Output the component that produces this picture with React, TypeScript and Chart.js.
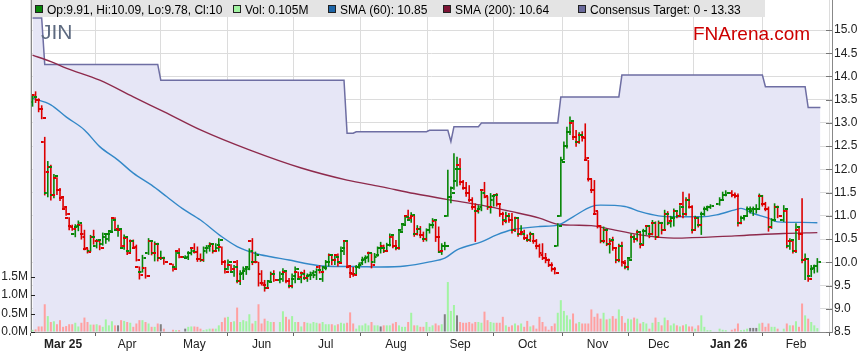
import React, { useEffect, useRef } from "react";
import { Chart, registerables } from "chart.js";

Chart.register(...registerables);

const FONT = "'Liberation Sans', Arial, Helvetica, sans-serif";
Chart.defaults.font.family = FONT;
Chart.defaults.font.size = 12;
Chart.defaults.color = "#222";

// ---------------- data ----------------
const tickerName = "JIN";
const siteName = "FNArena.com";

// x position = weekday index (0 = 17 Feb 2025)
const monthTickIdx = [10, 31, 53, 75, 96, 119, 140, 162, 185, 205, 228, 250];
const monthTickLabels = ["Mar 25", "Apr", "May", "Jun", "Jul", "Aug", "Sep", "Oct", "Nov", "Dec", "Jan 26", "Feb"];
const boldTickLabels = ["Mar 25", "Jan 26"];
const priceTicks = [8.5, 9.0, 9.5, 10.0, 10.5, 11.0, 11.5, 12.0, 12.5, 13.0, 13.5, 14.0, 14.5, 15.0];
const volumeTicks = [0, 0.5, 1.0, 1.5];

const opens: (number | null)[] = [
  13.45, 13.6, 13.5, 13.3, 12.6, 11.5, 12.05, 11.45, 11.82, 11.55,
  11.38, 11.15, 10.95, 10.78, 10.6, 10.75, 10.8, 10.6, 10.28, 10.25,
  10.55, 10.35, 10.45, 10.4, 10.55, 10.5, 10.68, 10.95, 10.7, 10.7,
  10.3, 10.52, 10.25, 10.45, 10.3, 9.9, 9.8, 9.88, 10.2, 10.45,
  10.2, 10.4, 10.1, 10.1, null, null, 9.97, 9.9, 10.25, null,
  10.12, 10.1, 10.2, 10.3, 10.22, 10.08, 10.05, 10.25, 10.3, 10.4,
  10.25, 10.3, 10.34, 10.0, 9.85, 9.95, 9.8, 10.0, 9.6, 9.75,
  9.82, 9.9, 10.45, 10.0, 10.0, 9.75, 9.55, 9.45, 9.6, 9.75,
  null, 9.62, 9.65, 9.8, 9.6, 9.5, 9.65, 9.8, 9.65, 9.78,
  9.66, 9.7, 9.72, 9.72, 9.9, 9.65, 9.9, 10.0, 10.15, 10.05,
  10.15, 10.0, 10.25, 10.45, 9.9, 9.78, 9.75, 9.9, 9.95, 10.05,
  10.1, 10.2, 10.0, 10.12, 10.3, 10.35, 10.25, 10.38, 10.55, 10.35,
  10.3, 10.7, 10.82, 11.0, 10.9, 11.0, 10.6, 10.72, 10.58, 10.5,
  10.7, 10.8, 10.88, 10.55, 10.22, 10.35, 11.0, 11.4, 11.6, 11.75,
  12.1, 11.72, 11.6, 11.5, 11.35, 11.2, 11.1, 11.15, 11.55, 11.4,
  11.18, 11.35, 11.44, 11.25, 11.05, 10.9, 11.0, 10.9, 10.7, 10.95,
  10.6, 10.65, 10.52, 10.48, 10.6, 10.45, 10.35, 10.2, 10.1, 10.05,
  9.95, 9.85, 10.35, 11.0, 12.2, 12.5, 12.8, 13.0, 12.7, 12.6,
  12.75, 12.7, 12.2, 11.8, 11.55, 11.05, 10.78, 10.45, 10.7, 10.4,
  10.45, 10.3, 10.05, 10.35, 10.0, 9.9, 10.1, 10.55, 10.5, 10.65,
  10.4, 10.68, 10.78, 10.6, 10.85, 10.55, 10.85, 10.7, 11.05, 10.85,
  10.95, 11.1, 11.0, 11.25, 11.05, 11.35, 11.2, 10.7, 10.95, 10.8,
  11.05, 11.15, 11.2, null, null, 11.25, 11.35, 11.45, null, 11.5,
  11.45, 11.42, 10.85, 10.95, 11.0, 11.15, 11.1, 11.15, 11.15, 11.42,
  11.25, 11.15, 10.75, 10.9, 11.2, null, 10.9, 11.1, 10.35, 10.45,
  10.25, 10.7, 10.6, 10.05, 10.08, 9.7, 9.85, 9.91,
];

const highs: (number | null)[] = [
  13.58, 13.68, 13.53, 13.38, 12.7, 12.18, 12.1, 11.9, 11.83, 11.6,
  11.4, 11.18, 10.97, 10.81, 10.82, 10.9, 10.82, 10.7, 10.3, 10.59,
  10.7, 10.5, 10.48, 10.64, 10.63, 10.67, 10.97, 10.97, 10.81, 10.72,
  10.6, 10.56, 10.49, 10.49, 10.38, 9.91, 10.16, 9.9, 10.52, 10.47,
  10.45, 10.42, 10.25, 10.12, null, null, 9.97, 10.23, 10.3, null,
  10.15, 10.24, 10.3, 10.41, 10.34, 10.19, 10.34, 10.37, 10.43, 10.41,
  10.41, 10.52, 10.34, 10.05, 10.06, 9.96, 9.94, 10.05, 9.83, 9.91,
  9.87, 10.3, 10.52, 10.23, 10.01, 9.83, 9.62, 9.62, 9.8, 9.83,
  null, 9.8, 9.87, 9.82, 9.66, 9.76, 9.91, 9.8, 9.8, 9.84,
  9.76, 9.8, 9.83, 9.87, 9.94, 9.91, 10.05, 10.19, 10.16, 10.16,
  10.19, 10.34, 10.48, 10.48, 9.92, 9.9, 9.94, 10.0, 10.12, 10.15,
  10.23, 10.2, 10.2, 10.34, 10.44, 10.38, 10.42, 10.62, 10.6, 10.48,
  10.7, 10.84, 11.02, 11.13, 11.08, 11.02, 10.8, 10.78, 10.66, 10.73,
  10.84, 10.95, 10.9, 10.77, 10.41, 10.44, 11.99, 11.63, 12.35, 12.27,
  12.24, 11.77, 11.73, 11.66, 11.4, 11.27, 11.23, 11.56, 11.73, 11.42,
  11.49, 11.45, 11.49, 11.27, 11.09, 11.09, 11.06, 11.06, 10.98, 10.96,
  10.8, 10.7, 10.6, 10.66, 10.62, 10.5, 10.4, 10.41, 10.2, 10.08,
  10.0, 9.9, 10.84, 12.27, 12.6, 12.92, 13.14, 13.05, 12.85, 12.8,
  12.82, 12.99, 12.2, 11.8, 11.77, 11.1, 10.8, 10.77, 10.72, 10.52,
  10.55, 10.3, 10.4, 10.44, 10.05, 10.08, 10.62, 10.6, 10.7, 10.66,
  10.72, 10.8, 10.8, 10.91, 10.88, 10.9, 10.87, 11.13, 11.1, 11.0,
  11.16, 11.12, 11.23, 11.52, 11.4, 11.48, 11.23, 11.0, 10.98, 11.09,
  11.2, 11.22, 11.25, null, null, 11.4, 11.52, 11.55, null, 11.55,
  11.5, 11.48, 11.0, 11.02, 11.2, 11.2, 11.2, 11.25, 11.48, 11.45,
  11.3, 11.2, 10.95, 11.27, 11.22, null, 11.23, 11.15, 10.52, 10.46,
  10.84, 10.78, 11.38, 10.19, 10.08, 9.94, 9.95, 10.09,
];

const lows: (number | null)[] = [
  13.35, 13.43, 13.23, 13.08, 11.44, 11.4, 11.33, 11.38, 11.45, 11.32,
  11.15, 11.0, 10.69, 10.68, 10.54, 10.67, 10.49, 10.26, 10.19, 10.23,
  10.38, 10.3, 10.26, 10.36, 10.4, 10.45, 10.67, 10.68, 10.55, 10.3,
  10.27, 10.16, 10.22, 10.29, 10.02, 9.63, 9.78, 9.65, 10.16, 10.15,
  10.02, 10.02, 10.05, 9.95, null, null, 9.8, 9.88, 10.09, null,
  10.09, 10.05, 10.15, 10.19, 10.01, 10.01, 10.01, 10.19, 10.23, 10.19,
  10.22, 10.23, 9.94, 9.76, 9.83, 9.8, 9.69, 9.55, 9.51, 9.62,
  9.73, 9.83, 9.94, 9.98, 9.48, 9.5, 9.37, 9.44, 9.58, 9.58,
  null, 9.55, 9.58, 9.55, 9.44, 9.44, 9.55, 9.62, 9.55, 9.62,
  9.58, 9.62, 9.66, 9.62, 9.76, 9.58, 9.83, 9.91, 9.94, 9.94,
  9.91, 9.98, 10.16, 9.87, 9.66, 9.69, 9.72, 9.86, 9.94, 9.98,
  10.0, 9.87, 9.98, 10.12, 10.19, 10.2, 10.22, 10.34, 10.3, 10.26,
  10.27, 10.68, 10.8, 10.91, 10.85, 10.55, 10.58, 10.52, 10.44, 10.45,
  10.62, 10.73, 10.44, 10.2, 10.16, 10.26, 10.98, 11.27, 11.56, 11.63,
  11.66, 11.56, 11.41, 11.3, 11.13, 10.44, 11.05, 11.1, 11.38, 11.13,
  11.05, 11.2, 11.2, 10.98, 10.8, 10.84, 10.85, 10.62, 10.65, 10.55,
  10.58, 10.48, 10.44, 10.44, 10.4, 10.28, 10.1, 10.05, 9.98, 9.9,
  9.8, 9.74, 10.34, 10.98, 12.2, 12.45, 12.74, 12.63, 12.49, 12.55,
  12.6, 12.2, 11.74, 11.49, 11.02, 10.73, 10.41, 10.41, 10.35, 10.19,
  10.25, 9.98, 10.0, 9.91, 9.85, 9.83, 10.08, 10.42, 10.45, 10.3,
  10.38, 10.59, 10.52, 10.58, 10.48, 10.55, 10.6, 10.68, 10.8, 10.75,
  10.77, 10.95, 10.98, 10.95, 11.0, 11.16, 10.62, 10.68, 10.75, 10.59,
  11.0, 11.1, 11.15, null, null, 11.22, 11.34, 11.42, null, 11.4,
  11.38, 10.77, 10.82, 10.9, 10.98, 11.05, 11.0, 11.05, 11.13, 11.2,
  11.1, 10.66, 10.72, 10.88, 10.95, null, 10.87, 10.3, 10.27, 10.19,
  10.2, 10.48, 9.98, 9.62, 9.58, 9.68, 9.76, 9.78,
];

const closes: (number | null)[] = [
  13.55, 13.5, 13.3, 13.1, 11.95, 12.05, 11.45, 11.85, 11.55, 11.4,
  11.2, 11.05, 10.75, 10.72, 10.78, 10.85, 10.55, 10.3, 10.22, 10.55,
  10.45, 10.47, 10.3, 10.6, 10.62, 10.65, 10.92, 10.72, 10.72, 10.35,
  10.55, 10.2, 10.45, 10.33, 10.05, 9.72, 10.1, 9.7, 10.45, 10.2,
  10.4, 10.1, 10.1, 10.0, null, null, 9.85, 10.2, 10.12, null,
  10.12, 10.2, 10.25, 10.22, 10.08, 10.05, 10.3, 10.35, 10.4, 10.25,
  10.38, 10.48, 10.0, 9.8, 10.0, 9.85, 9.9, 9.6, 9.78, 9.85,
  9.86, 10.25, 10.0, 10.15, 9.55, 9.52, 9.45, 9.58, 9.75, 9.62,
  null, 9.75, 9.82, 9.6, 9.5, 9.7, 9.85, 9.68, 9.75, 9.66,
  9.72, 9.76, 9.8, 9.84, 9.8, 9.88, 10.0, 10.15, 10.05, 10.12,
  9.98, 10.3, 10.45, 9.92, 9.75, 9.72, 9.9, 9.98, 10.08, 10.12,
  10.2, 9.95, 10.15, 10.3, 10.3, 10.25, 10.38, 10.58, 10.35, 10.3,
  10.65, 10.8, 10.98, 10.95, 11.02, 10.6, 10.72, 10.58, 10.5, 10.7,
  10.8, 10.9, 10.55, 10.25, 10.35, 10.35, 11.4, 11.5, 12.0, 12.0,
  11.72, 11.6, 11.5, 11.35, 11.2, 11.1, 11.18, 11.5, 11.42, 11.18,
  11.42, 11.44, 11.25, 11.05, 10.88, 11.0, 10.9, 10.7, 10.95, 10.6,
  10.62, 10.52, 10.48, 10.6, 10.45, 10.35, 10.15, 10.1, 10.05, 9.95,
  9.85, 9.78, 10.78, 12.15, 12.5, 12.8, 13.05, 12.7, 12.6, 12.75,
  12.68, 12.25, 11.8, 11.55, 11.1, 10.78, 10.45, 10.7, 10.4, 10.48,
  10.3, 10.05, 10.35, 9.98, 9.9, 10.05, 10.55, 10.5, 10.65, 10.38,
  10.68, 10.78, 10.6, 10.85, 10.55, 10.85, 10.7, 11.05, 10.88, 10.95,
  11.1, 11.0, 11.2, 11.05, 11.35, 11.2, 10.7, 10.95, 10.8, 11.05,
  11.15, 11.2, 11.22, null, null, 11.35, 11.45, 11.5, null, 11.45,
  11.42, 10.85, 10.95, 11.0, 11.15, 11.15, 11.15, 11.15, 11.42, 11.25,
  11.15, 10.75, 10.9, 11.2, 11.0, null, 11.15, 10.45, 10.48, 10.25,
  10.75, 10.6, 10.05, 10.08, 9.65, 9.88, 9.91, 10.0,
];

// volume in millions of shares
const volumes: (number | null)[] = [
  0.06, 0.07, 0.15, 0.15, 0.75, 0.43, 0.27, 0.29, 0.21, 0.32,
  0.14, 0.16, 0.21, 0.21, 0.25, 0.15, 0.25, 0.39, 0.27, 0.2,
  0.2, 0.21, 0.18, 0.14, 0.34, 0.18, 0.29, 0.18, 0.18, 0.32,
  0.3, 0.27, 0.25, 0.14, 0.23, 0.32, 0.32, 0.27, 0.23, 0.14,
  0.14, 0.23, 0.21, 0.09, null, null, 0.06, 0.05, 0.05, null,
  0.09, 0.14, 0.15, 0.15, 0.14, 0.09, 0.05, 0.07, 0.09, 0.09,
  0.09, 0.18, 0.27, 0.39, 0.41, 0.27, 0.29, 0.66, 0.27, 0.32,
  0.29, 0.48, 0.23, 0.3, 0.75, 0.23, 0.36, 0.3, 0.27, 0.27,
  null, 0.27, 0.56, 0.41, 0.34, 0.43, 0.27, 0.27, 0.15, 0.27,
  0.25, 0.23, 0.27, 0.25, 0.23, 0.27, 0.21, 0.21, 0.21, 0.18,
  0.21, 0.25, 0.23, 0.25, 0.53, 0.23, 0.09, 0.18, 0.18, 0.23,
  0.18, 0.27, 0.18, 0.18, 0.15, 0.18, 0.18, 0.18, 0.23, 0.27,
  0.18, 0.14, 0.14, 0.27, 0.52, 0.18, 0.18, 0.14, 0.14, 0.27,
  0.14, 0.18, 0.23, 0.18, 0.21, 0.48, 1.35, 0.57, 0.73, 0.45,
  0.27, 0.25, 0.25, 0.27, 0.23, 0.27, 0.27, 0.25, 0.55, 0.32,
  0.27, 0.25, 0.25, 0.25, 0.41, 0.18, 0.14, 0.18, 0.23, 0.18,
  0.23, 0.14, 0.3, 0.15, 0.18, 0.09, 0.41, 0.27, 0.15, 0.06,
  0.16, 0.23, 0.52, 0.86, 0.57, 0.45, 0.34, 0.5, 0.23, 0.27,
  0.23, 0.23, 0.23, 0.61, 0.41, 0.5, 0.36, 0.52, 0.34, 0.36,
  0.43, 0.36, 0.61, 0.43, 0.25, 0.36, 0.34, 0.39, 0.36, 0.23,
  0.27, 0.23, 0.09, 0.25, 0.39, 0.27, 0.18, 0.39, 0.32, 0.18,
  0.23, 0.18, 0.15, 0.18, 0.21, 0.15, 0.15, 0.09, 0.18, 0.45,
  0.14, 0.05, 0.05, null, null, 0.09, 0.06, 0.05, null, 0.06,
  0.09, 0.23, 0.05, 0.06, 0.09, 0.11, 0.11, 0.11, 0.23, 0.25,
  0.14, 0.23, 0.14, 0.14, 0.09, null, 0.09, 0.23, 0.18, 0.18,
  0.29, 0.14, 0.77, 0.45, 0.36, 0.27, 0.18, 0.105,
];

const sma60Idx = [0, 6, 11, 17, 22, 28, 33, 39, 44, 49, 55, 62, 67, 73, 78, 84, 89, 95, 100, 105, 114, 122, 130, 135, 139, 147, 152, 157, 166, 172, 177, 183, 186, 194, 199, 205, 210, 219, 224, 230, 232, 236, 241, 244, 252, 257];
const sma60Val = [13.53, 13.39, 13.13, 12.85, 12.49, 12.2, 11.92, 11.66, 11.41, 11.16, 10.91, 10.55, 10.34, 10.19, 10.12, 10.05, 9.98, 9.92, 9.91, 9.91, 9.9, 9.92, 10.01, 10.09, 10.27, 10.44, 10.59, 10.7, 10.77, 10.8, 10.98, 11.2, 11.23, 11.2, 11.09, 11.0, 10.98, 10.98, 11.02, 11.13, 11.16, 11.05, 10.95, 10.87, 10.86, 10.85];

const sma200Idx = [0, 6, 11, 22, 33, 44, 55, 71, 88, 103, 114, 125, 136, 147, 157, 166, 172, 177, 183, 188, 199, 210, 230, 246, 257];
const sma200Val = [14.46, 14.32, 14.18, 13.92, 13.56, 13.21, 12.85, 12.42, 12.03, 11.77, 11.63, 11.48, 11.35, 11.23, 11.09, 10.95, 10.82, 10.8, 10.79, 10.73, 10.59, 10.52, 10.57, 10.62, 10.64];

const targetIdx = [0, 3, 4, 41, 42, 102, 103, 105, 106, 129, 130, 136, 137, 138, 146, 147, 172, 173, 192, 193, 239, 240, 253, 254, 258];
const targetVal = [15.26, 15.26, 14.26, 14.26, 13.92, 13.92, 12.78, 12.78, 12.81, 12.81, 12.84, 12.84, 12.6, 12.92, 12.92, 13.0, 13.0, 13.56, 13.56, 14.03, 14.03, 13.78, 13.78, 13.33, 13.33];

// ---------------- colours ----------------
const UP = "#078607";
const DOWN = "#DD0000";
const VOL_UP = "#A2F4A2";
const VOL_DOWN = "#FFA0A0";
const VOL_FLAT = "#808080";
const LAVENDER = "#E6E6F6";
const TARGET_LINE = "#6E6EA3";
const SMA60_COLOR = "#3388C8";
const SMA200_COLOR = "#8E2A4C";

function tickImage(color: string, side: "left" | "right"): HTMLCanvasElement {
  const c = document.createElement("canvas");
  c.width = 8;
  c.height = 2;
  const g = c.getContext("2d")!;
  g.fillStyle = color;
  if (side === "left") g.fillRect(0, 0, 3, 2);
  else g.fillRect(5, 0, 3, 2);
  return c;
}

export default function App() {
  const canvasRef = useRef<HTMLCanvasElement | null>(null);

  useEffect(() => {
    document.body.style.margin = "0";
    const canvas = canvasRef.current;
    if (!canvas) return;

    const valid: number[] = [];
    for (let i = 0; i < closes.length; i++) if (closes[i] != null) valid.push(i);

    const dirs = valid.map((i, k) => {
      const prev = k > 0 ? (closes[valid[k - 1]] as number) : (opens[i] as number);
      const c = closes[i] as number;
      return c > prev ? 1 : c < prev ? -1 : 0;
    });
    const barUp = valid.map((i, k) => dirs[k] > 0 || (dirs[k] === 0 && (closes[i] as number) >= (opens[i] as number)));
    const barColors = barUp.map((u) => (u ? UP : DOWN));
    const volColors = dirs.map((d) => (d > 0 ? VOL_UP : d < 0 ? VOL_DOWN : VOL_FLAT));

    const openUp = tickImage(UP, "left");
    const openDown = tickImage(DOWN, "left");
    const closeUp = tickImage(UP, "right");
    const closeDown = tickImage(DOWN, "right");

    const last = valid[valid.length - 1];
    const legendItems = [
      { x: 35, color: UP, text: `Op:${opens[last]}, Hi:${highs[last]}, Lo:${lows[last]}, Cl:${closes[last]}` },
      { x: 233, color: VOL_UP, text: `Vol: ${volumes[last]}M` },
      { x: 328, color: "#1C65A8", text: `SMA (60): ${sma60Val[sma60Val.length - 1]}` },
      { x: 443, color: "#7D1435", text: `SMA (200): ${sma200Val[sma200Val.length - 1]}` },
      { x: 578, color: "#6A6A9C", text: `Consensus Target: 0 - ${targetVal[targetVal.length - 1]}` },
    ];

    const decor = {
      id: "decor",
      afterDatasetsDraw(chart: any) {
        const { ctx, chartArea } = chart;
        const ys = chart.scales.y;
        const vs = chart.scales.vol;
        ctx.save();
        ctx.lineWidth = 1;
        ctx.strokeStyle = "#777";
        ys.ticks.forEach((t: any) => {
          const py = Math.round(ys.getPixelForValue(t.value)) + 0.5;
          ctx.beginPath();
          ctx.moveTo(chartArea.right - 6, py);
          ctx.lineTo(chartArea.right, py);
          ctx.stroke();
        });
        ctx.strokeStyle = "#222";
        vs.ticks.forEach((t: any) => {
          const py = Math.round(vs.getPixelForValue(t.value)) + 0.5;
          ctx.beginPath();
          ctx.moveTo(chartArea.left, py);
          ctx.lineTo(chartArea.left + 4, py);
          ctx.stroke();
        });
        ctx.textBaseline = "alphabetic";
        ctx.textAlign = "left";
        ctx.font = `21px ${FONT}`;
        ctx.fillStyle = "#5D6A80";
        ctx.fillText(tickerName, 41, 39);
        ctx.font = `19px ${FONT}`;
        ctx.fillStyle = "#CC0000";
        ctx.fillText(siteName, 693, 40);
        ctx.restore();
      },
      afterDraw(chart: any) {
        const ctx = chart.ctx;
        ctx.save();
        ctx.fillStyle = "#E4E4E4";
        ctx.fillRect(32, 0, 733, 17);
        ctx.font = `12px ${FONT}`;
        ctx.textBaseline = "alphabetic";
        ctx.textAlign = "left";
        legendItems.forEach((it) => {
          ctx.fillStyle = it.color;
          ctx.fillRect(it.x, 5, 8, 8);
          ctx.strokeStyle = "#222";
          ctx.lineWidth = 1;
          ctx.strokeRect(it.x + 0.5, 5.5, 7, 7);
          ctx.fillStyle = "#000";
          ctx.fillText(it.text, it.x + 12, 14);
        });
        ctx.restore();
      },
    };

    const chart = new Chart(canvas, {
      type: "line",
      data: {
        datasets: [
          {
            type: "line",
            label: "Consensus Target",
            data: targetIdx.map((x, k) => ({ x, y: targetVal[k] })),
            borderColor: TARGET_LINE,
            borderWidth: 1.5,
            backgroundColor: LAVENDER,
            fill: "start",
            pointRadius: 0,
            tension: 0,
            yAxisID: "y",
            order: 10,
          },
          {
            type: "bar",
            label: "Vol",
            data: valid.map((i) => ({ x: i, y: volumes[i] })),
            backgroundColor: volColors,
            barThickness: 2,
            inflateAmount: 0,
            grouped: false,
            yAxisID: "vol",
            order: 9,
          },
          {
            type: "line",
            label: "SMA (200)",
            data: sma200Idx.map((x, k) => ({ x, y: sma200Val[k] })),
            borderColor: SMA200_COLOR,
            borderWidth: 1.4,
            pointRadius: 0,
            cubicInterpolationMode: "monotone",
            fill: false,
            yAxisID: "y",
            order: 8,
          },
          {
            type: "line",
            label: "SMA (60)",
            data: sma60Idx.map((x, k) => ({ x, y: sma60Val[k] })),
            borderColor: SMA60_COLOR,
            borderWidth: 1.4,
            pointRadius: 0,
            cubicInterpolationMode: "monotone",
            fill: false,
            yAxisID: "y",
            order: 7,
          },
          {
            type: "bar",
            label: "High-Low",
            data: valid.map((i) => ({ x: i, y: [lows[i], highs[i]] })),
            backgroundColor: barColors,
            barThickness: 1.6,
            inflateAmount: 0,
            grouped: false,
            yAxisID: "y",
            order: 6,
          },
          {
            type: "line",
            label: "Open",
            data: valid.map((i) => ({ x: i, y: opens[i] })),
            showLine: false,
            pointRadius: 3,
            pointStyle: (c: any) => (barUp[c.dataIndex] ? openUp : openDown),
            yAxisID: "y",
            order: 5,
          },
          {
            type: "line",
            label: "Close",
            data: valid.map((i) => ({ x: i, y: closes[i] })),
            showLine: false,
            pointRadius: 3,
            pointStyle: (c: any) => (barUp[c.dataIndex] ? closeUp : closeDown),
            yAxisID: "y",
            order: 4,
          },
        ] as any,
      },
      options: {
        responsive: false,
        maintainAspectRatio: false,
        animation: false,
        devicePixelRatio: 1,
        events: [],
        layout: { padding: 0, autoPadding: false },
        plugins: {
          legend: { display: false },
          tooltip: { enabled: false },
          title: { display: false },
        },
        scales: {
          x: {
            type: "linear",
            min: -0.5,
            max: 261.8,
            offset: false,
            afterBuildTicks: (s: any) => {
              s.ticks = monthTickIdx.map((v) => ({ value: v }));
            },
            afterFit: (s: any) => {
              s.height = 31;
              s.paddingLeft = 0;
              s.paddingRight = 0;
            },
            grid: { color: "#DCDCDC", lineWidth: 1, drawTicks: true, tickLength: 4, tickColor: "#666" },
            border: { display: true, color: "#888" },
            ticks: {
              autoSkip: false,
              maxRotation: 0,
              minRotation: 0,
              padding: 1,
              color: "#222",
              font: (c: any) => ({
                family: FONT,
                size: 12,
                weight: c.tick && boldTickLabels.includes(c.tick.label) ? "bold" : "normal",
              }),
              callback: (v: any) => {
                const k = monthTickIdx.indexOf(Number(v));
                return k >= 0 ? monthTickLabels[k] : "";
              },
            },
          },
          y: {
            type: "linear",
            position: "right",
            min: 8.5,
            max: 15.646,
            afterBuildTicks: (s: any) => {
              s.ticks = priceTicks.map((v) => ({ value: v }));
            },
            afterFit: (s: any) => {
              s.width = 27;
              s.paddingTop = 0;
              s.paddingBottom = 0;
            },
            grid: { color: "#DCDCDC", lineWidth: 1, drawTicks: false },
            border: { display: true, color: "#888" },
            ticks: {
              autoSkip: false,
              padding: 2,
              color: "#222",
              font: { family: FONT, size: 12 },
              callback: (v: any) => Number(v).toFixed(1),
            },
          },
          vol: {
            type: "linear",
            position: "left",
            min: 0,
            max: 8.973,
            afterBuildTicks: (s: any) => {
              s.ticks = volumeTicks.map((v) => ({ value: v }));
            },
            afterFit: (s: any) => {
              s.width = 31;
              s.paddingTop = 0;
              s.paddingBottom = 0;
            },
            grid: { drawOnChartArea: false, drawTicks: false },
            border: { display: true, color: "#888" },
            ticks: {
              autoSkip: false,
              padding: 3,
              color: "#222",
              font: { family: FONT, size: 12 },
              callback: (v: any) => Number(v).toFixed(1) + "M",
            },
          },
        },
      } as any,
      plugins: [decor],
    });

    return () => chart.destroy();
  }, []);

  return (
    <div style={{ width: 859, height: 363 }}>
      <canvas ref={canvasRef} width={859} height={363} style={{ display: "block", width: "859px", height: "363px" }} />
    </div>
  );
}
